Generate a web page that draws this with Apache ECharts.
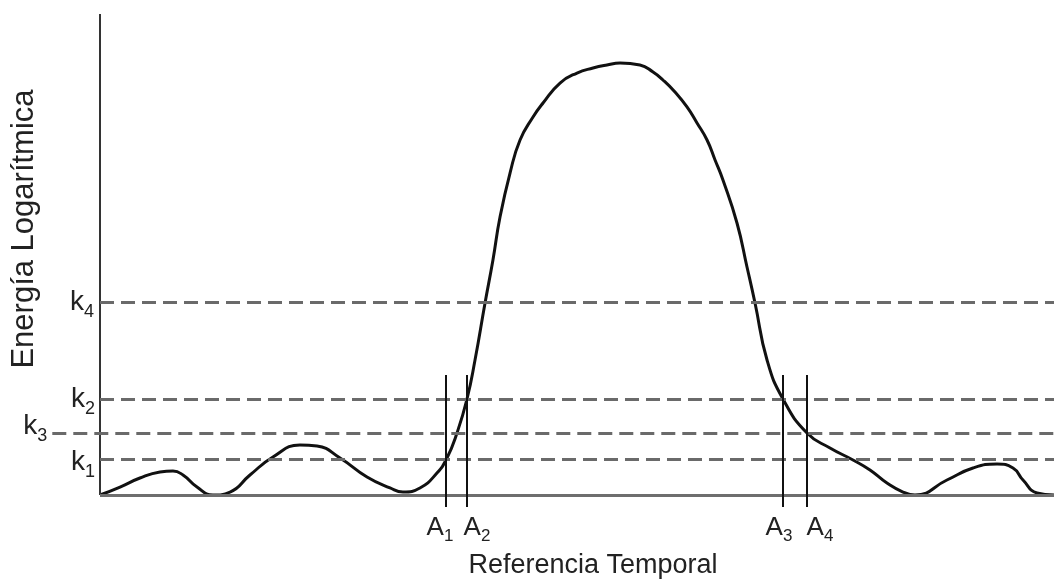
<!DOCTYPE html>
<html><head><meta charset="utf-8">
<script src="https://cdn.jsdelivr.net/npm/echarts@6/dist/echarts.min.js"></script>
<style>html,body{margin:0;padding:0;background:#fff}#c{width:1054px;height:580px}</style>
</head><body><div id="c"></div>
<script>
// Reference time (arbitrary units 0..100) and log energy (arbitrary units 0..100)
const timeRef = [0, 2.1, 4.19, 6.29, 7.65, 8.7, 10.17, 11.84, 13.63, 15.72, 18.13, 20.96, 22.75, 25.16, 27.99, 30.4, 31.76, 33.54, 35.32, 36.37, 37.42, 38.47, 39.31, 40.36, 41.19, 41.93, 42.98, 44.03, 45.39, 46.44, 48.22, 50.0, 51.68, 53.14, 54.51, 56.6, 57.97, 59.01, 60.27, 61.53, 62.58, 63.63, 64.47, 65.3, 66.77, 67.82, 68.66, 69.92, 71.59, 74.11, 76.52, 78.93, 80.71, 82.49, 84.17, 85.43, 88.78, 91.51, 94.03, 95.7, 96.75, 98.22, 100];
const logEnergy = [0, 1.66, 3.53, 4.78, 4.99, 4.16, 1.66, 0, 0.62, 4.16, 7.9, 10.4, 10.19, 7.69, 3.74, 1.46, 0.62, 1.46, 4.57, 7.69, 12.89, 19.96, 28.07, 39.92, 48.86, 57.8, 66.94, 73.8, 78.59, 81.5, 85.65, 87.73, 88.77, 89.4, 89.81, 89.4, 87.94, 86.28, 83.78, 80.67, 77.34, 73.8, 69.65, 65.49, 56.55, 47.4, 39.92, 28.07, 19.96, 12.89, 9.77, 7.28, 5.2, 2.49, 0.62, 0, 3.12, 5.61, 6.44, 5.61, 3.12, 0.42, 0];
// Thresholds
const thresholdNames = ['k4', 'k2', 'k3', 'k1'];
const thresholdValues = [40.12, 19.96, 12.89, 7.48];
// Crossing instants
const crossNames = ['A1', 'A2', 'A3', 'A4'];
const crossTimes = [36.27, 38.47, 71.59, 74.11];
const xTitle = 'Referencia Temporal';
const yTitle = 'Energía Logarítmica';

const FONT = '"Liberation Sans", Arial, sans-serif';
const chart = echarts.init(document.getElementById('c'), null, {renderer: 'canvas'});

const sub = (n) => '{m|' + n[0] + '}{s|' + n.slice(1) + '}';
const kRich = {
  m: {fontSize: 28, lineHeight: 32, color: '#222', fontFamily: FONT},
  s: {fontSize: 18, lineHeight: 18, padding: [21, 0, 0, 0], color: '#222', fontFamily: FONT}
};
const aRich = {
  m: {fontSize: 26, lineHeight: 30, color: '#222', fontFamily: FONT},
  s: {fontSize: 17, lineHeight: 17, padding: [16, 0, 0, 0], color: '#222', fontFamily: FONT}
};

const dashStyle = {color: '#6a6a6a', width: 3, type: [14, 7]};
const kExtra = {
  k4: {start: 0, pad: [0, 0, 0, 0], dist: 6},
  k2: {start: 0, pad: [0, 0, 0, 0], dist: 5},
  k3: {start: -5, pad: [0, 0, 14, 0], dist: 5},
  k1: {start: 0, pad: [6, 0, 0, 0], dist: 5}
};
const aPad = {A1: [0, 12, 0, 0], A2: [0, 0, 0, 20], A3: [0, 8, 0, 0], A4: [0, 0, 0, 26]};

const markData = [];
// axes lines
markData.push([
  {coord: [0, 0], lineStyle: {color: '#333', width: 2, type: 'solid'}, label: {show: false}},
  {coord: [0, 100]}
]);
markData.push([
  {coord: [0, 0], lineStyle: {color: '#6e6e6e', width: 3, type: 'solid'}, label: {show: false}},
  {coord: [100, 0]}
]);
thresholdNames.forEach((n, i) => {
  const e = kExtra[n];
  markData.push([
    {coord: [e.start, thresholdValues[i]], lineStyle: dashStyle,
     label: {show: true, position: 'start', distance: e.dist, formatter: sub(n), rich: kRich, padding: e.pad}},
    {coord: [100, thresholdValues[i]]}
  ]);
});
crossNames.forEach((n, i) => {
  markData.push([
    {coord: [crossTimes[i], 24.95], lineStyle: {color: '#111', width: 2, type: 'solid'},
     label: {show: true, position: 'end', distance: 6, formatter: sub(n), rich: aRich, padding: aPad[n]}},
    {coord: [crossTimes[i], -2.49]}
  ]);
});

chart.setOption({
  animation: false,
  backgroundColor: '#fff',
  grid: {left: 52.3, right: 0, top: 14, bottom: 12.85, outerBoundsMode: 'none', containLabel: false},
  xAxis: {
    type: 'value', min: -5, max: 100,
    axisLine: {show: false}, axisTick: {show: false}, axisLabel: {show: false}, splitLine: {show: false}
  },
  yAxis: {
    type: 'value', min: -15, max: 100,
    axisLine: {show: false}, axisTick: {show: false}, axisLabel: {show: false}, splitLine: {show: false}
  },
  graphic: [{
    type: 'text', x: 24, y: 229, rotation: Math.PI / 2,
    style: {text: yTitle, fontSize: 31, fontFamily: FONT, fill: '#222', align: 'center', verticalAlign: 'middle'}
  }, {
    type: 'text', x: 593, y: 566,
    style: {text: xTitle, fontSize: 27, fontFamily: FONT, fill: '#222', align: 'center', verticalAlign: 'middle'}
  }],
  series: [{
    type: 'line',
    data: timeRef.map((t, i) => [t, logEnergy[i]]),
    smooth: 0.5,
    showSymbol: false,
    clip: false,
    lineStyle: {color: '#111', width: 3},
    z: 3,
    markLine: {
      silent: true,
      symbol: ['none', 'none'],
      animation: false,
      data: markData
    }
  }]
});
</script>
</body></html>
